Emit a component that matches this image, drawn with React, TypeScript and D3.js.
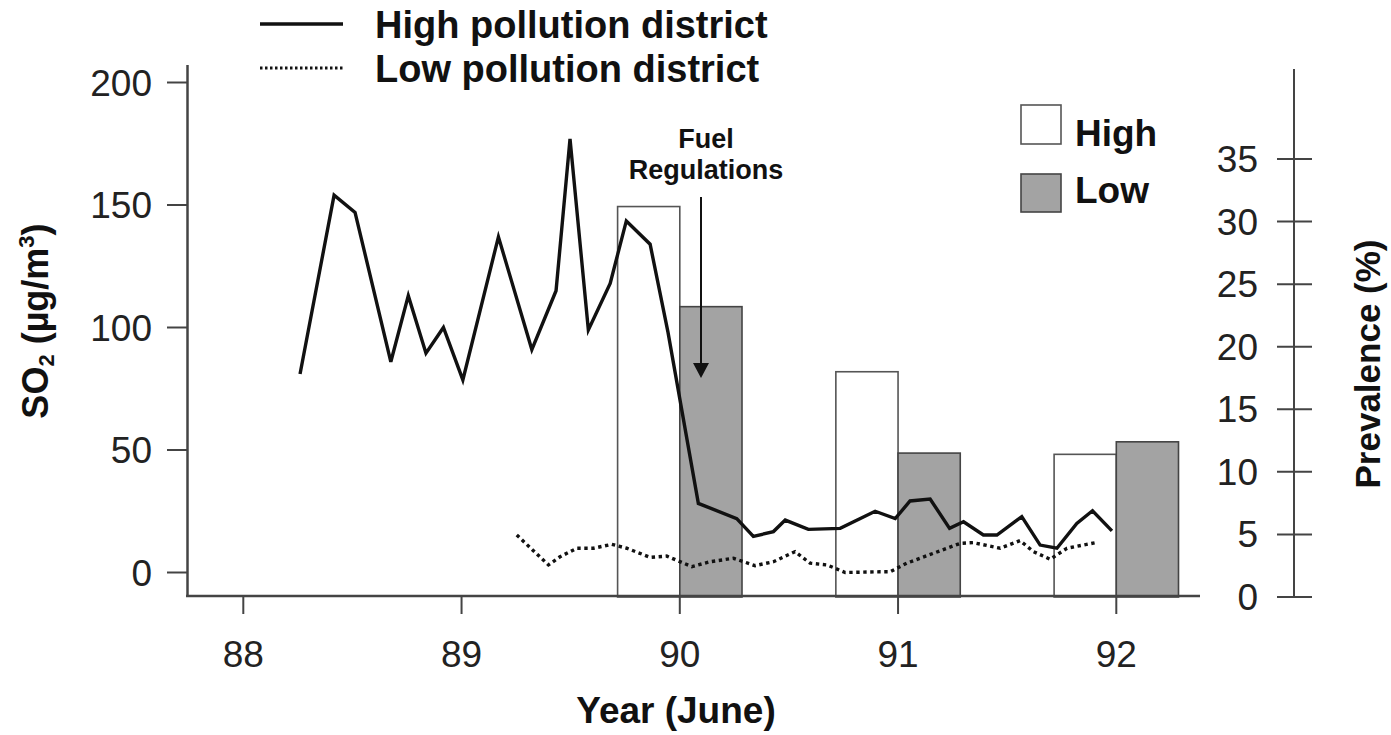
import React from "react";
import * as d3 from "d3";

// ---- Data ----
const highYears = [88.26, 88.416, 88.512, 88.676, 88.756, 88.837, 88.917, 89.006, 89.169, 89.322, 89.433, 89.497, 89.581, 89.681, 89.755, 89.864, 89.946, 90.085, 90.261, 90.337, 90.429, 90.483, 90.589, 90.735, 90.895, 90.987, 91.055, 91.147, 91.236, 91.3, 91.391, 91.453, 91.567, 91.651, 91.728, 91.819, 91.891, 91.98];
const highSO2 = [81, 154, 147, 86, 113, 89.5, 100, 78.6, 137, 91, 115, 177, 99, 118, 143.5, 134, 98, 28.2, 22, 14.7, 16.7, 21.4, 17.6, 18, 25, 22, 29.2, 30, 18, 20.7, 15.3, 15.3, 22.8, 11.2, 9.9, 20, 25.2, 17];

const lowYears = [89.253, 89.398, 89.451, 89.528, 89.604, 89.688, 89.757, 89.864, 89.94, 90.055, 90.139, 90.246, 90.345, 90.429, 90.528, 90.597, 90.674, 90.758, 90.918, 90.964, 91.04, 91.285, 91.344, 91.468, 91.559, 91.621, 91.697, 91.774, 91.911];
const lowSO2 = [15.3, 3.1, 6.4, 9.9, 9.9, 11.5, 9.9, 6.2, 6.7, 2.4, 4.4, 5.8, 2.8, 4.4, 8.5, 3.8, 3.1, 0, 0.3, 0.3, 3.8, 11.9, 12.2, 9.9, 13, 8.5, 5.4, 9.9, 12.3];

const prevYears = [90, 91, 92];
const highPrev = [31.2, 18.0, 11.4];
const lowPrev = [23.2, 11.5, 12.4];

const yearTicks = [88, 89, 90, 91, 92];
const so2Ticks = [0, 50, 100, 150, 200];
const prevTicks = [0, 5, 10, 15, 20, 25, 30, 35];

const FONT = "'Liberation Sans', Arial, Helvetica, sans-serif";

export default function App() {
  const W = 1391, H = 735;
  const x = d3.scaleLinear().domain([88, 92]).range([243.3, 1116.3]);
  const yL = d3.scaleLinear().domain([0, 200]).range([572.5, 82.5]);
  const yR = d3.scaleLinear().domain([0, 35]).range([597, 159]);
  const baseY = 596;
  const barW = 0.285;

  const line = d3.line<[number, number]>().x(d => x(d[0])).y(d => yL(d[1]));
  const highPts: [number, number][] = highYears.map((yr, i) => [yr, highSO2[i]]);
  const lowPts: [number, number][] = lowYears.map((yr, i) => [yr, lowSO2[i]]);

  const axisColor = "#444";

  return (
    <svg width={W} height={H} style={{ position: "absolute", left: 0, top: 0, background: "#fff" }} fontFamily={FONT}>
      <rect x={0} y={0} width={W} height={H} fill="#fff" />

      {/* Bars */}
      {prevYears.map((yr, i) => (
        <g key={"b" + yr}>
          <rect x={x(yr - barW)} y={yR(highPrev[i])} width={x(yr) - x(yr - barW)} height={yR(0) - yR(highPrev[i])}
            fill="#fff" stroke="#555" strokeWidth={1.6} />
          <rect x={x(yr)} y={yR(lowPrev[i])} width={x(yr + barW) - x(yr)} height={yR(0) - yR(lowPrev[i])}
            fill="#a3a3a3" stroke="#444" strokeWidth={1.6} />
        </g>
      ))}

      {/* Lines */}
      <path d={line(lowPts) || ""} fill="none" stroke="#111" strokeWidth={3.4} strokeDasharray="3.4 3.6" />
      <path d={line(highPts) || ""} fill="none" stroke="#111" strokeWidth={3.4} strokeLinejoin="miter" />

      {/* Left axis */}
      <line x1={187.5} x2={187.5} y1={65} y2={baseY} stroke={axisColor} strokeWidth={2.5} />
      {so2Ticks.map(t => (
        <g key={"l" + t}>
          <line x1={167} x2={187.5} y1={yL(t)} y2={yL(t)} stroke={axisColor} strokeWidth={2} />
          <text x={152} y={yL(t) + 13} textAnchor="end" fontSize={37} fill="#222">{t}</text>
        </g>
      ))}

      {/* Bottom axis */}
      <line x1={186} x2={1200} y1={baseY} y2={baseY} stroke={axisColor} strokeWidth={2.5} />
      {yearTicks.map(t => (
        <g key={"x" + t}>
          <line x1={x(t)} x2={x(t)} y1={baseY} y2={baseY + 18} stroke={axisColor} strokeWidth={2} />
          <text x={x(t)} y={667} textAnchor="middle" fontSize={37} fill="#222">{t}</text>
        </g>
      ))}
      <text x={676} y={723} textAnchor="middle" fontSize={37} fontWeight="bold" fill="#111">Year (June)</text>

      {/* Left axis title */}
      <text transform="translate(48,321) rotate(-90)" textAnchor="middle" fontSize={36} fontWeight="bold" fill="#111">
        SO<tspan fontSize={22} dy={6}>2</tspan><tspan dy={-6}> (µg/m</tspan><tspan fontSize={22} dy={-14}>3</tspan><tspan dy={14}>)</tspan>
      </text>

      {/* Right axis */}
      <line x1={1294} x2={1294} y1={69} y2={yR(0)} stroke={axisColor} strokeWidth={2} />
      {prevTicks.map(t => (
        <g key={"r" + t}>
          <line x1={1277} x2={1312} y1={yR(t)} y2={yR(t)} stroke={axisColor} strokeWidth={2} />
          <text x={1258} y={yR(t) + 13} textAnchor="end" fontSize={37} fill="#222">{t}</text>
        </g>
      ))}
      <text transform="translate(1380,364) rotate(-90)" textAnchor="middle" fontSize={35} fontWeight="bold" fill="#111">Prevalence (%)</text>

      {/* Fuel regulations annotation */}
      <text x={706} y={148} textAnchor="middle" fontSize={27} fontWeight="bold" fill="#111">Fuel</text>
      <text x={706} y={179} textAnchor="middle" fontSize={27} fontWeight="bold" fill="#111">Regulations</text>
      <line x1={701} x2={701} y1={197} y2={366} stroke="#111" strokeWidth={2} />
      <path d="M693,363 L709,363 L701,378 Z" fill="#111" />

      {/* Top legend (lines) */}
      <line x1={260} x2={343} y1={24} y2={24} stroke="#111" strokeWidth={3.4} />
      <line x1={260} x2={343} y1={68} y2={68} stroke="#111" strokeWidth={3} strokeDasharray="2.5 2.5" />
      <text x={375} y={38} fontSize={38} fontWeight="bold" fill="#111">High pollution district</text>
      <text x={375} y={82} fontSize={38} fontWeight="bold" fill="#111">Low pollution district</text>

      {/* Bar legend */}
      <rect x={1021} y={105} width={40} height={39} fill="#fff" stroke="#555" strokeWidth={1.6} />
      <rect x={1021} y={174} width={40} height={38} fill="#a3a3a3" stroke="#444" strokeWidth={1.6} />
      <text x={1075} y={146} fontSize={37} fontWeight="bold" fill="#111">High</text>
      <text x={1075} y={203} fontSize={37} fontWeight="bold" fill="#111">Low</text>
    </svg>
  );
}
